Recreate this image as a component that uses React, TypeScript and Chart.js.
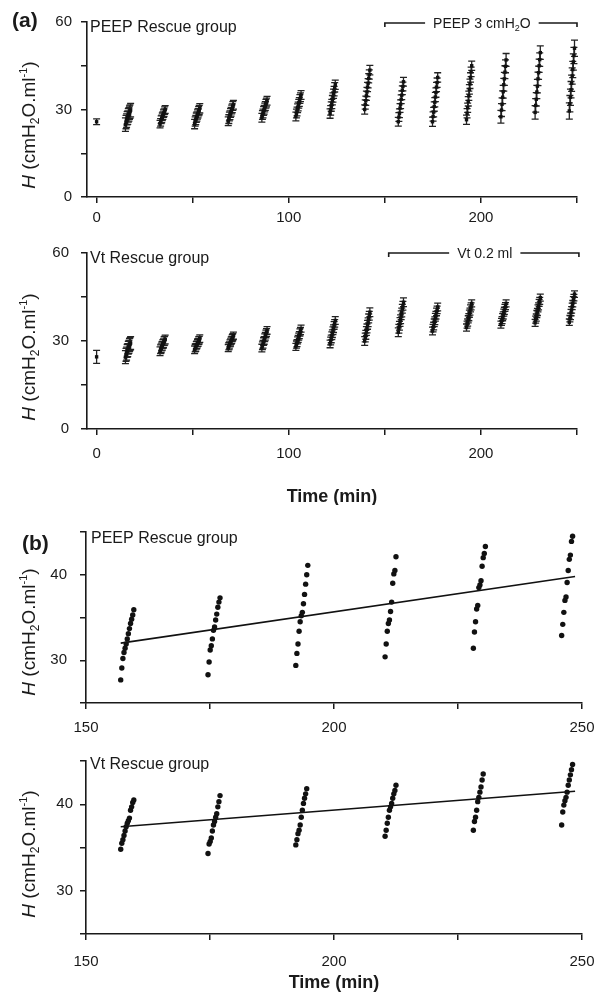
import React, { useEffect, useRef } from 'react';
import { Chart, registerables } from 'chart.js';
Chart.register(...registerables);

const FONT = "'Liberation Sans', Arial, Helvetica, sans-serif";
const INK = '#1a1a1a';

// ---------- panel (a): axes ----------
const A_X_TICKS = [0, 50, 100, 150, 200, 250];
const A_X_LABELS = ['0', '', '100', '', '200', ''];
const A_Y_TICKS = [0, 15, 30, 45, 60];
const A_Y_LABELS = ['0', '', '30', '', '60'];

// time offsets (min) of the successive measurements inside one cluster
const A_OFFSETS = [0, 0.3, 0.6, 0.9, 1.2, 1.5, 1.8, 2.1, 2.4, 2.7];
const A_CLUSTER_STARTS = [15, 33, 51, 68.5, 86, 103.7, 121.5, 139.5, 157, 174.8, 192.5, 210.4, 228.2, 246];

// ---------- panel (a): PEEP Rescue group (mean, SD) ----------
const PEEP_A_BASE_MEAN = 25.8;
const PEEP_A_BASE_SD = 1.0;
const PEEP_A_MEANS = [
  [24.8, 25.7, 26.2, 27.0, 27.2, 28.0, 28.3, 28.9, 29.3, 29.8],
  [25.0, 25.6, 26.5, 26.8, 27.5, 27.9, 28.6, 28.9, 29.6, 30.0],
  [25.0, 25.9, 26.4, 27.2, 27.6, 28.3, 28.7, 29.4, 29.8, 30.4],
  [26.0, 26.7, 27.6, 28.0, 28.8, 29.2, 30.0, 30.4, 31.2, 31.6],
  [27.2, 28.1, 28.6, 29.5, 29.9, 30.7, 31.2, 32.0, 32.4, 33.0],
  [27.6, 28.6, 29.3, 30.4, 31.0, 32.0, 32.6, 33.6, 34.2, 35.0],
  [28.6, 29.7, 31.0, 31.9, 33.2, 34.1, 35.4, 36.3, 37.6, 38.5],
  [30.0, 31.7, 33.0, 34.7, 36.0, 37.7, 39.0, 40.7, 42.0, 43.5],
  [25.8, 27.4, 28.7, 30.5, 31.8, 33.5, 34.9, 36.6, 37.9, 39.5],
  [25.8, 27.6, 29.1, 31.0, 32.5, 34.3, 35.8, 37.7, 39.2, 41.0],
  [26.5, 28.7, 30.6, 32.8, 34.7, 36.9, 38.8, 41.0, 42.9, 45.0],
  [27.5, 29.8, 31.8, 34.2, 36.1, 38.5, 40.5, 42.8, 44.8, 47.0],
  [29.0, 31.4, 33.5, 36.0, 38.0, 40.5, 42.6, 45.0, 47.1, 49.5],
  [29.5, 32.0, 34.2, 36.8, 39.0, 41.5, 43.7, 46.3, 48.5, 51.0],
];
const PEEP_A_SD = [2.3, 1.3, 1.6, 1.5, 1.5, 1.5, 1.6, 1.6, 1.5, 1.6, 1.6, 2.2, 2.3, 2.8];

// ---------- panel (a): Vt Rescue group (mean, SD) ----------
const VT_A_BASE_MEAN = 24.6;
const VT_A_BASE_SD = 2.2;
const VT_A_MEANS = [
  [24.5, 25.3, 25.7, 26.6, 26.9, 27.7, 28.0, 28.6, 28.9, 29.3],
  [26.5, 27.2, 27.5, 28.1, 28.4, 29.0, 29.2, 29.9, 30.1, 30.5],
  [27.0, 27.6, 27.8, 28.5, 28.7, 29.3, 29.5, 30.1, 30.3, 30.8],
  [27.6, 28.2, 28.5, 29.2, 29.5, 30.1, 30.4, 31.0, 31.3, 31.8],
  [27.6, 28.4, 28.9, 29.8, 30.2, 31.1, 31.6, 32.4, 32.9, 33.6],
  [28.0, 28.8, 29.3, 30.2, 30.7, 31.5, 32.0, 32.9, 33.4, 34.2],
  [29.0, 30.0, 30.7, 31.8, 32.5, 33.5, 34.2, 35.3, 36.0, 37.0],
  [30.0, 31.2, 32.1, 33.4, 34.3, 35.5, 36.4, 37.7, 38.6, 39.8],
  [33.0, 34.2, 35.2, 36.5, 37.4, 38.8, 39.7, 41.0, 42.0, 43.2],
  [33.4, 34.4, 35.1, 36.2, 36.9, 38.1, 38.8, 39.9, 40.6, 41.6],
  [34.6, 35.6, 36.3, 37.4, 38.1, 39.3, 40.0, 41.1, 41.8, 42.8],
  [35.6, 36.5, 37.1, 38.1, 38.7, 39.7, 40.3, 41.3, 41.9, 42.8],
  [36.2, 37.3, 38.0, 39.2, 39.9, 41.1, 41.8, 43.0, 43.7, 44.8],
  [36.4, 37.6, 38.4, 39.7, 40.6, 41.8, 42.7, 44.0, 44.8, 46.0],
];
const VT_A_SD = [2.2, 1.5, 1.3, 1.2, 1.3, 1.2, 1.3, 1.5, 1.5, 1.3, 1.2, 1.2, 1.2, 1.1];

// ---------- panel (b): axes ----------
const B_X_TICKS = [150, 175, 200, 225, 250];
const B_X_LABELS = ['150', '', '200', '', '250'];
const B_Y_TICKS = [25, 30, 35, 40, 45];
const B_Y_LABELS = ['', '30', '', '40', ''];
const B_STARTS = [157, 174.6, 192.3, 210.3, 228.1, 245.9];
const B_OFFSETS = [0, 0.22, 0.44, 0.66, 0.88, 1.1, 1.32, 1.54, 1.76, 1.98, 2.2, 2.42, 2.64];

// ---------- panel (b): individual values ----------
const PEEP_B_VALUES = [
  [27.7, 29.1, 30.2, 30.9, 31.4, 31.9, 32.5, 33.1, 33.7, 34.3, 34.8, 35.3, 35.9],
  [28.3, 29.8, 31.2, 31.7, 32.5, 33.5, 33.9, 34.7, 35.4, 36.2, 36.8, 37.3],
  [29.4, 30.8, 31.9, 33.4, 34.5, 35.2, 35.6, 36.6, 37.7, 38.9, 40.0, 41.1],
  [30.4, 31.9, 33.4, 34.3, 34.7, 35.7, 36.8, 39.0, 40.1, 40.5, 42.1],
  [31.4, 33.3, 34.5, 36.0, 36.4, 38.5, 38.8, 39.3, 41.0, 42.0, 42.5, 43.3],
  [32.9, 34.2, 35.6, 37.0, 37.4, 39.1, 40.5, 41.8, 42.3, 43.9, 44.5],
];
const VT_B_VALUES = [
  [34.8, 35.5, 35.9, 36.4, 36.9, 37.4, 37.8, 38.1, 38.4, 39.3, 39.7, 40.2, 40.5],
  [34.3, 35.4, 35.7, 36.1, 36.9, 37.6, 38.0, 38.5, 38.9, 39.7, 40.3, 41.0],
  [35.3, 35.9, 36.6, 37.0, 37.6, 38.5, 39.3, 40.1, 40.7, 41.2, 41.8],
  [36.3, 37.0, 37.8, 38.5, 39.3, 39.7, 40.1, 40.7, 41.2, 41.6, 42.2],
  [37.0, 38.0, 38.5, 39.3, 40.3, 40.8, 41.4, 42.0, 42.8, 43.5],
  [37.6, 39.1, 39.9, 40.4, 40.8, 41.4, 42.2, 42.8, 43.4, 44.0, 44.6],
];
const FIT_T = [157, 248.6];
const PEEP_FIT = [32.0, 39.8];
const VT_FIT = [37.4, 41.5];

// ---------- helpers ----------
type Pt = { x: number; y: number; sd?: number };

function buildA(baseMean: number, baseSd: number, means: number[][], sds: number[]): Pt[] {
  const out: Pt[] = [{ x: 0, y: baseMean, sd: baseSd }];
  means.forEach((arr, c) => {
    arr.forEach((m, i) => out.push({ x: A_CLUSTER_STARTS[c] + A_OFFSETS[i], y: m, sd: sds[c] }));
  });
  return out;
}
function buildB(values: number[][]): Pt[] {
  const out: Pt[] = [];
  values.forEach((arr, c) => arr.forEach((v, i) => out.push({ x: B_STARTS[c] + B_OFFSETS[i], y: v })));
  return out;
}
function buildFit(vals: number[]): Pt[] {
  return FIT_T.map((t, i) => ({ x: t, y: vals[i] }));
}

type Part = { t: string; size: number; dy?: number; style?: string };

function drawParts(ctx: CanvasRenderingContext2D, parts: Part[], cx: number, cy: number) {
  let total = 0;
  parts.forEach((p) => {
    ctx.font = `${p.style || ''} ${p.size}px ${FONT}`;
    total += ctx.measureText(p.t).width;
  });
  let x = cx - total / 2;
  ctx.textBaseline = 'alphabetic';
  ctx.textAlign = 'left';
  parts.forEach((p) => {
    ctx.font = `${p.style || ''} ${p.size}px ${FONT}`;
    ctx.fillText(p.t, x, cy + (p.dy || 0));
    x += ctx.measureText(p.t).width;
  });
  return { left: cx - total / 2, right: cx + total / 2 };
}

const Y_TITLE: Part[] = [
  { t: 'H', size: 19, style: 'italic' },
  { t: ' (cmH', size: 19 },
  { t: '2', size: 12, dy: 4 },
  { t: 'O.ml', size: 19 },
  { t: '-1', size: 11, dy: -8 },
  { t: ')', size: 19 },
];

type Deco = {
  top: number;
  panel?: { text: string; x: number; y: number };
  group: { text: string; x: number; y: number };
  yTitle: { x: number; y: number };
  bracket?: { from: number; to: number; center: number; y: number; parts: Part[] };
  timeTitleY?: number;
  errorBars?: boolean;
};

function decoPlugin(id: string, d: Deco) {
  return {
    id,
    beforeDatasetsDraw(chart: any) {
      if (!d.errorBars) return;
      const ctx = chart.ctx as CanvasRenderingContext2D;
      const ys = chart.scales.y;
      const ds = chart.data.datasets[0];
      const meta = chart.getDatasetMeta(0);
      ctx.save();
      ctx.strokeStyle = '#222';
      ctx.lineWidth = 1.3;
      meta.data.forEach((el: any, i: number) => {
        const raw = ds.data[i] as Pt;
        const yt = ys.getPixelForValue(raw.y + (raw.sd || 0));
        const yb = ys.getPixelForValue(raw.y - (raw.sd || 0));
        ctx.beginPath();
        ctx.moveTo(el.x, yt);
        ctx.lineTo(el.x, yb);
        ctx.moveTo(el.x - 3.5, yt);
        ctx.lineTo(el.x + 3.5, yt);
        ctx.moveTo(el.x - 3.5, yb);
        ctx.lineTo(el.x + 3.5, yb);
        ctx.stroke();
      });
      ctx.restore();
    },
    afterDraw(chart: any) {
      const ctx = chart.ctx as CanvasRenderingContext2D;
      const off = d.top;
      ctx.save();
      ctx.fillStyle = INK;
      ctx.strokeStyle = INK;
      if (d.panel) {
        ctx.font = `bold 21px ${FONT}`;
        ctx.textAlign = 'left';
        ctx.textBaseline = 'middle';
        ctx.fillText(d.panel.text, d.panel.x, d.panel.y - off);
      }
      ctx.font = `16px ${FONT}`;
      ctx.textAlign = 'left';
      ctx.textBaseline = 'middle';
      ctx.fillText(d.group.text, d.group.x, d.group.y - off);

      // y-axis title (rotated, with sub/superscript)
      ctx.save();
      ctx.translate(d.yTitle.x, d.yTitle.y - off);
      ctx.rotate(-Math.PI / 2);
      drawParts(ctx, Y_TITLE, 0, 7);
      ctx.restore();

      if (d.bracket) {
        const xs = chart.scales.x;
        const b = d.bracket;
        const y = b.y - off;
        const cx = xs.getPixelForValue(b.center);
        const ext = drawParts(ctx, b.parts, cx, y + 5);
        const x1 = xs.getPixelForValue(b.from);
        const x2 = xs.getPixelForValue(b.to);
        ctx.lineWidth = 1.6;
        ctx.beginPath();
        ctx.moveTo(x1, y + 4);
        ctx.lineTo(x1, y);
        ctx.lineTo(ext.left - 8, y);
        ctx.moveTo(ext.right + 8, y);
        ctx.lineTo(x2, y);
        ctx.lineTo(x2, y + 4);
        ctx.stroke();
      }
      if (d.timeTitleY !== undefined) {
        const area = chart.chartArea;
        ctx.font = `bold 18px ${FONT}`;
        ctx.textAlign = 'center';
        ctx.textBaseline = 'middle';
        ctx.fillText('Time (min)', (area.left + area.right) / 2, d.timeTitleY - off);
      }
      ctx.restore();
    },
  };
}

type Spec = {
  key: string;
  top: number;
  height: number;
  padTop: number;
  padRight: number;
  yWidth: number;
  xHeight: number;
  xMin: number;
  xMax: number;
  xTicks: number[];
  xLabels: string[];
  xPad: number;
  yMin: number;
  yMax: number;
  yTicks: number[];
  yLabels: string[];
  yPad: number;
  datasets: any[];
  deco: Deco;
};

function axisStyle() {
  return {
    grid: { display: true, drawOnChartArea: false, drawTicks: true, tickLength: 6, color: INK, lineWidth: 1.5 },
    border: { display: true, color: INK, width: 1.6 },
  };
}

function buildConfig(s: Spec): any {
  return {
    type: 'scatter',
    data: { datasets: s.datasets },
    options: {
      animation: false,
      responsive: false,
      devicePixelRatio: 1,
      layout: { padding: { top: s.padTop, right: s.padRight, left: 0, bottom: 0 } },
      plugins: { legend: { display: false }, tooltip: { enabled: false } },
      scales: {
        x: {
          type: 'linear',
          min: s.xMin,
          max: s.xMax,
          afterBuildTicks: (sc: any) => {
            sc.ticks = s.xTicks.map((v) => ({ value: v }));
          },
          afterFit: (sc: any) => {
            sc.height = s.xHeight;
            sc.paddingLeft = 0;
            sc.paddingRight = 0;
          },
          ticks: {
            autoSkip: false,
            maxRotation: 0,
            padding: s.xPad,
            color: INK,
            font: { size: 15, family: FONT },
            callback: (v: number) => s.xLabels[s.xTicks.indexOf(v)] ?? '',
          },
          ...axisStyle(),
        },
        y: {
          type: 'linear',
          min: s.yMin,
          max: s.yMax,
          afterBuildTicks: (sc: any) => {
            sc.ticks = s.yTicks.map((v) => ({ value: v }));
          },
          afterFit: (sc: any) => {
            sc.width = s.yWidth;
            sc.paddingTop = 0;
            sc.paddingBottom = 0;
          },
          ticks: {
            autoSkip: false,
            padding: s.yPad,
            color: INK,
            font: { size: 15, family: FONT },
            callback: (v: number) => s.yLabels[s.yTicks.indexOf(v)] ?? '',
          },
          ...axisStyle(),
        },
      },
    },
    plugins: [decoPlugin('deco_' + s.key, s.deco)],
  };
}

function aDataset(pts: Pt[]) {
  return {
    data: pts,
    pointStyle: 'rect',
    pointRadius: 2.4,
    pointBackgroundColor: '#111',
    pointBorderWidth: 0,
    clip: false,
  };
}
function bDatasets(pts: Pt[], fit: Pt[]) {
  return [
    { data: pts, pointRadius: 2.7, pointBackgroundColor: '#111', pointBorderWidth: 0, clip: false },
    { data: fit, showLine: true, borderColor: '#111', borderWidth: 1.6, pointRadius: 0, fill: false },
  ];
}

const PEEP_BR: Part[] = [
  { t: 'PEEP 3 cmH', size: 14 },
  { t: '2', size: 9, dy: 3 },
  { t: 'O', size: 14 },
];
const VT_BR: Part[] = [{ t: 'Vt 0.2 ml', size: 14 }];

const SPECS: Spec[] = [
  {
    key: 'a1', top: 0, height: 230, padTop: 22, padRight: 20, yWidth: 87, xHeight: 33,
    xMin: -5, xMax: 250, xTicks: A_X_TICKS, xLabels: A_X_LABELS, xPad: 6,
    yMin: 0, yMax: 60, yTicks: A_Y_TICKS, yLabels: A_Y_LABELS, yPad: 9,
    datasets: [aDataset(buildA(PEEP_A_BASE_MEAN, PEEP_A_BASE_SD, PEEP_A_MEANS, PEEP_A_SD))],
    deco: {
      top: 0, errorBars: true,
      panel: { text: '(a)', x: 12, y: 21 },
      group: { text: 'PEEP Rescue group', x: 90, y: 28 },
      yTitle: { x: 28, y: 125 },
      bracket: { from: 150, to: 250, center: 200.5, y: 23, parts: PEEP_BR },
    },
  },
  {
    key: 'a2', top: 230, height: 275, padTop: 23, padRight: 20, yWidth: 87, xHeight: 76,
    xMin: -5, xMax: 250, xTicks: A_X_TICKS, xLabels: A_X_LABELS, xPad: 10,
    yMin: 0, yMax: 60, yTicks: A_Y_TICKS, yLabels: A_Y_LABELS, yPad: 12,
    datasets: [aDataset(buildA(VT_A_BASE_MEAN, VT_A_BASE_SD, VT_A_MEANS, VT_A_SD))],
    deco: {
      top: 230, errorBars: true,
      group: { text: 'Vt Rescue group', x: 90, y: 259 },
      yTitle: { x: 28, y: 357 },
      bracket: { from: 152, to: 251, center: 202, y: 253, parts: VT_BR },
      timeTitleY: 497,
    },
  },
  {
    key: 'b1', top: 505, height: 235, padTop: 27, padRight: 15, yWidth: 86, xHeight: 37,
    xMin: 150, xMax: 250, xTicks: B_X_TICKS, xLabels: B_X_LABELS, xPad: 10,
    yMin: 25, yMax: 45, yTicks: B_Y_TICKS, yLabels: B_Y_LABELS, yPad: 13,
    datasets: bDatasets(buildB(PEEP_B_VALUES), buildFit(PEEP_FIT)),
    deco: {
      top: 505,
      panel: { text: '(b)', x: 22, y: 544 },
      group: { text: 'PEEP Rescue group', x: 91, y: 539 },
      yTitle: { x: 28, y: 632 },
    },
  },
  {
    key: 'b2', top: 740, height: 264, padTop: 21, padRight: 15, yWidth: 86, xHeight: 70,
    xMin: 150, xMax: 250, xTicks: B_X_TICKS, xLabels: B_X_LABELS, xPad: 13,
    yMin: 25, yMax: 45, yTicks: B_Y_TICKS, yLabels: B_Y_LABELS, yPad: 7,
    datasets: bDatasets(buildB(VT_B_VALUES), buildFit(VT_FIT)),
    deco: {
      top: 740,
      group: { text: 'Vt Rescue group', x: 90, y: 765 },
      yTitle: { x: 28, y: 854 },
      timeTitleY: 983,
    },
  },
];

function Panel({ spec }: { spec: Spec }) {
  const ref = useRef<HTMLCanvasElement>(null);
  useEffect(() => {
    if (!ref.current) return;
    const chart = new Chart(ref.current, buildConfig(spec));
    return () => chart.destroy();
  }, [spec]);
  return (
    <canvas
      ref={ref}
      width={597}
      height={spec.height}
      style={{ position: 'absolute', left: 0, top: spec.top, width: 597, height: spec.height, display: 'block' }}
    />
  );
}

export default function App() {
  return (
    <div style={{ position: 'fixed', left: 0, top: 0, width: 597, height: 1004, background: '#fff', overflow: 'hidden' }}>
      {SPECS.map((s) => (
        <Panel key={s.key} spec={s} />
      ))}
    </div>
  );
}
